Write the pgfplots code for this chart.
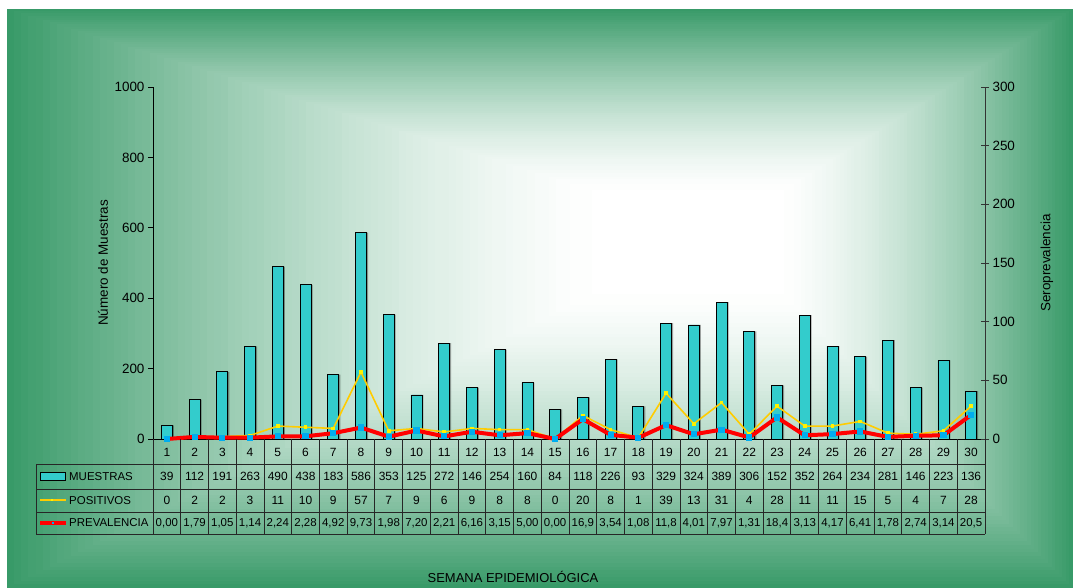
\documentclass[border=0pt]{standalone}
\usepackage{fontspec}
\setmainfont{Liberation Sans}
\usepackage{pgfplots}
\usepackage{pgfplotstable}
\pgfplotsset{compat=1.18}

\definecolor{bggreen}{RGB}{56,154,104}
\definecolor{barcyan}{RGB}{51,204,204}
\definecolor{linegold}{RGB}{255,204,0}
\newcommand\fs[1]{\fontsize{#1}{#1}\selectfont}

% semana, muestras, positivos, prevalencia, prevalencia como aparece en la tabla
\pgfplotstableread{
sem mue pos prev txt
1 39 0 0.00 0,00
2 112 2 1.79 1,79
3 191 2 1.05 1,05
4 263 3 1.14 1,14
5 490 11 2.24 2,24
6 438 10 2.28 2,28
7 183 9 4.92 4,92
8 586 57 9.73 9,73
9 353 7 1.98 1,98
10 125 9 7.20 7,20
11 272 6 2.21 2,21
12 146 9 6.16 6,16
13 254 8 3.15 3,15
14 160 8 5.00 5,00
15 84 0 0.00 0,00
16 118 20 16.9 16,9
17 226 8 3.54 3,54
18 93 1 1.08 1,08
19 329 39 11.8 11,8
20 324 13 4.01 4,01
21 389 31 7.97 7,97
22 306 4 1.31 1,31
23 152 28 18.4 18,4
24 352 11 3.13 3,13
25 264 11 4.17 4,17
26 234 15 6.41 6,41
27 281 5 1.78 1,78
28 146 4 2.74 2,74
29 223 7 3.14 3,14
30 136 28 20.5 20,5
}\datos

\begin{document}
\begin{tikzpicture}[x=1bp,y=1bp]
\fill[white] (0,0) rectangle (1073,588);
\path[use as bounding box] (0,0) rectangle (1073,588);

% fondo: degradado rectangular hacia el centro claro
\foreach \i in {0,...,85}{
  \pgfmathsetmacro\t{\i/100}
  \pgfmathtruncatemacro\g{100*(1-\t/0.85)^1.5}
  \pgfmathsetmacro\xl{7+\t*713}
  \pgfmathsetmacro\xr{1073-\t*353}
  \pgfmathsetmacro\yb{\t*358}
  \pgfmathsetmacro\yt{579-\t*221}
  \fill[bggreen!\g!white] (\xl,\yb) rectangle (\xr,\yt);
}

\begin{axis}[
  at={(153bp,149bp)}, anchor=south west,
  scale only axis, width=832bp, height=352bp,
  xmin=0.5, xmax=30.5, ymin=0, ymax=1000,
  axis x line*=bottom, axis y line*=left,
  xtick=\empty,
  ytick={0,200,...,1000},
  tick align=outside, major tick length=5bp,
  tick style={black, line width=0.8bp},
  axis line style={black, line width=0.8bp, -},
  y tick label style={font=\fs{13.5}, /pgf/number format/assume math mode=true, /pgf/number format/1000 sep={}},
  ylabel={Número de Muestras},
  ylabel style={font=\fs{13.5}, at={(axis description cs:-0.06,0.5)}, anchor=center},
  clip=false,
]
\addplot[ybar, bar width=11bp, bar shift=1.5bp, fill=black, draw=none, opacity=0.35] table[x=sem, y=mue] {\datos};
\addplot[ybar, bar width=11bp, fill=barcyan, draw=black, line width=0.7bp] table[x=sem, y=mue] {\datos};
\end{axis}

\begin{axis}[
  at={(153bp,149bp)}, anchor=south west,
  scale only axis, width=832bp, height=352bp,
  xmin=0.5, xmax=30.5, ymin=0, ymax=300,
  axis x line=none, axis y line*=right,
  ytick={0,50,...,300},
  tick align=center, major tick length=8bp,
  tick style={black!80, line width=0.8bp},
  axis line style={black!80, line width=0.8bp, -},
  y tick label style={font=\fs{13.5}, /pgf/number format/assume math mode=true},
  ylabel={Seroprevalencia},
  ylabel style={font=\fs{13.5}, at={(axis description cs:1.0745,0.5)}, anchor=center, rotate=0},
  clip=false,
]
\addplot[linegold, line width=1.6bp, mark=square*, mark size=1bp, mark options={fill=yellow, draw=yellow}] table[x=sem, y=pos] {\datos};
\addplot[red, line width=4bp, mark=square*, mark size=1.1bp, mark options={fill=cyan, draw=cyan}] table[x=sem, y=prev] {\datos};
\end{axis}

% tabla de datos
\foreach \y in {124,99,76,54} \draw[black!85, line width=0.8bp] (36,\y) -- (985,\y);
\draw[black!85, line width=0.8bp] (36,54) -- (36,124);
\foreach \i in {0,...,30}{
  \pgfmathsetmacro\vx{153+\i*27.7333}
  \draw[black!85, line width=0.8bp] (\vx,54) -- (\vx,149);
}
\foreach \i in {0,...,29}{
  \pgfmathsetmacro\cx{153+(\i+0.5)*27.7333}
  \pgfplotstablegetelem{\i}{sem}\of\datos
  \node[font=\fs{12}, inner sep=0pt] at (\cx,136) {\pgfplotsretval};
  \pgfplotstablegetelem{\i}{mue}\of\datos
  \node[font=\fs{12}, inner sep=0pt] at (\cx,111.5) {\pgfplotsretval};
  \pgfplotstablegetelem{\i}{pos}\of\datos
  \node[font=\fs{12}, inner sep=0pt] at (\cx,87.5) {\pgfplotsretval};
  \pgfplotstablegetelem{\i}{txt}\of\datos
  \node[font=\fs{11.5}, inner sep=0pt] at (\cx,65) {\pgfplotsretval};
}
% leyenda dentro de la tabla
\filldraw[fill=barcyan, draw=black, line width=0.8bp] (40,108) rectangle (65,115.5);
\node[font=\fs{11.5}, anchor=west, inner sep=0pt] at (69,111.5) {MUESTRAS};
\draw[linegold, line width=1.6bp] (40,88) -- (66,88);
\fill[yellow] (51,86.8) rectangle (53.4,89.2);
\node[font=\fs{11.5}, anchor=west, inner sep=0pt] at (69,87.5) {POSITIVOS};
\draw[red, line width=4bp] (40,65) -- (66,65);
\fill[cyan] (51.8,63.8) rectangle (54,66.2);
\node[font=\fs{11.5}, anchor=west, inner sep=0pt] at (69,65) {PREVALENCIA};

\node[font=\fs{13}, inner sep=0pt] at (513,11) {SEMANA EPIDEMIOLÓGICA};
\end{tikzpicture}
\end{document}
